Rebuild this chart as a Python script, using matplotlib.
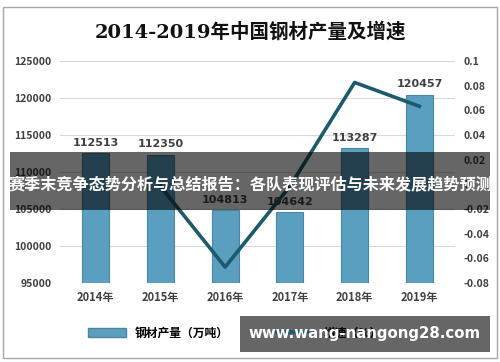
import matplotlib
matplotlib.use("Agg")
import matplotlib.pyplot as plt
from matplotlib.patches import Rectangle, Patch
from matplotlib.lines import Line2D

plt.rcParams['font.family'] = ['Noto Sans CJK SC', 'DejaVu Sans']

years = ['2014年', '2015年', '2016年', '2017年', '2018年', '2019年']
output = [112513, 112350, 104813, 104642, 113287, 120457]   # 万吨
growth = [None, -0.0014, -0.067, -0.0016, 0.0826, 0.0633]
left_ticks = [95000, 100000, 105000, 110000, 115000, 120000, 125000]
right_ticks = [-0.08, -0.06, -0.04, -0.02, 0, 0.02, 0.04, 0.06, 0.08, 0.1]

fig = plt.figure(figsize=(5, 3.62), dpi=100)
ax = fig.add_axes([0.12, 0.218, 0.79, 0.6135])

x = list(range(len(years)))
bars = ax.bar(x, [v - 95000 for v in output], bottom=95000, width=0.42,
              color='#5b9fc0', edgecolor='#4a86a3', linewidth=0.8, zorder=2)
for xi, v in zip(x, output):
    ax.text(xi, v + 700, str(v), ha='center', va='bottom', fontsize=8,
            color='#404040', fontweight='bold', family='DejaVu Sans')

ax.set_ylim(95000, 125000)
ax.set_xlim(-0.55, 5.55)
ax.set_yticks(left_ticks)
ax.set_yticklabels([str(t) for t in left_ticks], fontsize=7.5, color='#404040',
                   fontweight='bold')
ax.set_xticks(x)
ax.set_xticklabels(years, fontsize=8, color='#404040', fontweight='bold')
ax.tick_params(length=0, pad=6)
ax.yaxis.grid(True, color='#d9d9d9', linewidth=0.8, zorder=0)
for s in ax.spines.values():
    s.set_visible(False)

ax2 = ax.twinx()
gx = [xi for xi, g in zip(x, growth) if g is not None]
gy = [g for g in growth if g is not None]
ax2.plot(gx, gy, color='#1c5a6e', linewidth=2.6, zorder=3)
ax2.set_ylim(-0.08, 0.1)
ax2.set_yticks(right_ticks)
ax2.set_yticklabels(['0' if t == 0 else ('%g' % t) for t in right_ticks],
                    fontsize=7.5, color='#404040', fontweight='bold')
ax2.tick_params(length=0, pad=6)
for s in ax2.spines.values():
    s.set_visible(False)

fig.text(0.5, 0.912, '2014-2019年中国钢材产量及增速', ha='center', va='center',
         fontsize=14, color='#111111', fontweight='bold',
         family=['DejaVu Serif', 'Noto Sans CJK SC'])

handles = [Patch(facecolor='#5b9fc0', edgecolor='#4a86a3'),
           Line2D([0], [0], color='#1c5a6e', linewidth=2.6)]
fig.legend(handles, ['钢材产量（万吨）', '增速（%）'], loc='center',
           bbox_to_anchor=(0.47, 0.08), ncol=2, frameon=False, fontsize=8.5,
           handlelength=3.2, columnspacing=4,
           prop={'weight': 'bold', 'size': 8.5})

# outer frame
fig.patches.append(Rectangle((0.006, 0.012), 0.988, 0.968, transform=fig.transFigure,
                             fill=False, edgecolor='#a6a6a6', linewidth=1))

# banner overlay
fig.patches.append(Rectangle((0.02, 0.42), 0.96, 0.16, transform=fig.transFigure,
                             facecolor='#000000', alpha=0.6, edgecolor='none', zorder=5))
fig.text(0.5, 0.49, '赛季末竞争态势分析与总结报告：各队表现评估与未来发展趋势预测',
         ha='center', va='center', fontsize=11.6, color='white', fontweight='bold',
         zorder=6)

# watermark box
fig.patches.append(Rectangle((0.48, 0.028), 0.5, 0.1, transform=fig.transFigure,
                             facecolor='#666666', edgecolor='none', zorder=5))
fig.text(0.73, 0.078, 'www.wang-nangong28.com', ha='center', va='center',
         fontsize=10.8, color='white', fontweight='bold', family='DejaVu Sans',
         zorder=6)

fig.savefig('out.png', dpi=100)
